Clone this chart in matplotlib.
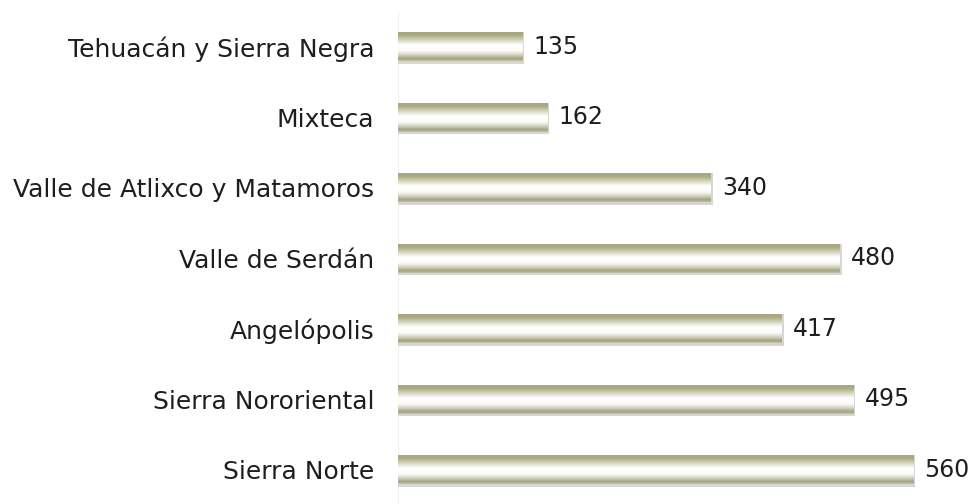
import numpy as np
import matplotlib
matplotlib.use("Agg")
import matplotlib.pyplot as plt
from matplotlib.colors import LinearSegmentedColormap
from matplotlib.patches import Rectangle

categories = ["Tehuacán y Sierra Negra", "Mixteca", "Valle de Atlixco y Matamoros",
              "Valle de Serdán", "Angelópolis", "Sierra Nororiental", "Sierra Norte"]
values = [135, 162, 340, 480, 417, 495, 560]

plt.rcParams['font.family'] = ['DejaVu Sans']

W, H = 968, 504
fig = plt.figure(figsize=(W / 100, H / 100), dpi=100)
left_px, right_px = 398, 965
top_px, bottom_px = 11.5, 505
ax = fig.add_axes([left_px / W, 1 - bottom_px / H, (right_px - left_px) / W, (bottom_px - top_px) / H])
xmax = (right_px - left_px) / 0.92
ax.set_xlim(0, xmax)
n = len(categories)
ax.set_ylim(n - 0.5, -0.5)

cmap = LinearSegmentedColormap.from_list("cyl", [
    (0.0, "#a8a87c"),
    (0.12, "#acac84"),
    (0.3, "#dcdccb"),
    (0.45, "#ffffff"),
    (0.65, "#fbfbf8"),
    (0.8, "#d0d0bc"),
    (0.92, "#a2a27c"),
    (1.0, "#c4c4b0"),
])
grad = np.linspace(0, 1, 256).reshape(-1, 1)

bh = 0.41
for i, v in enumerate(values):
    sh = Rectangle((0, i - bh / 2), v + 2.2, bh + 0.035, facecolor="#d6d6d6", edgecolor="none", zorder=1)
    ax.add_patch(sh)
    ax.imshow(grad, cmap=cmap, aspect="auto", extent=(0, v, i + bh / 2, i - bh / 2),
              zorder=2, interpolation="bilinear")
    ax.text(v + 12, i, str(v), va="center", ha="left", fontsize=17, color="#1e1e1e", zorder=3)

ax.set_yticks(range(n))
ax.set_yticklabels(categories, fontsize=18, color="#1e1e1e")
ax.tick_params(axis="y", length=0, pad=17)
ax.set_xticks([])
for s in ax.spines.values():
    s.set_visible(False)
ax.axvline(0, color="#f2f2f2", lw=1, zorder=0)

fig.savefig("out.png", dpi=100)
